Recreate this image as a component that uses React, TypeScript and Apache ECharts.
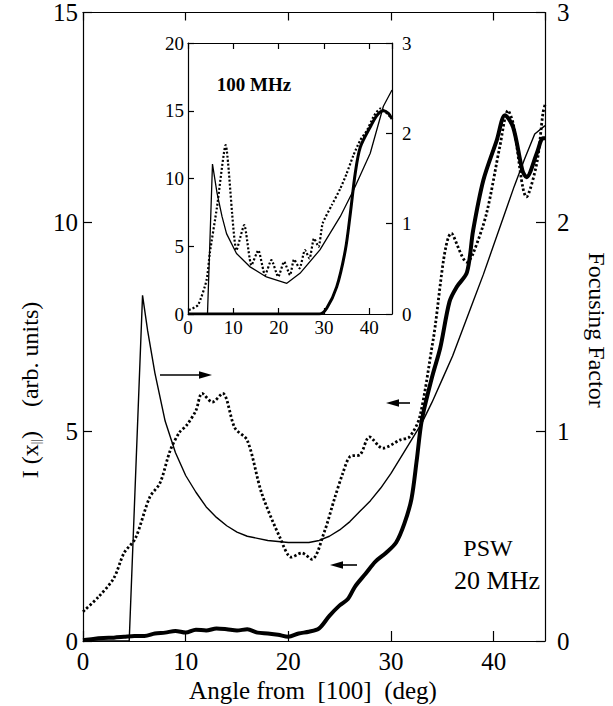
import React, { useEffect, useRef } from "react";
import * as echarts from "echarts";

// ---------- Main chart data (20 MHz) ----------
// Focusing factor (thin solid, right axis)
const mainFocusAngle = [0, 4.5, 5.8, 6.3, 7, 8, 9, 10, 11, 12, 13, 14, 15, 16, 17, 18, 19, 20, 21, 22, 23, 24, 25, 26, 27, 28, 29, 30, 31, 32, 33, 34, 35, 36, 37, 38, 39, 40, 41, 42, 43, 44, 45];
const mainFocus = [0, 0, 1.65, 1.48, 1.28, 1.05, 0.9, 0.79, 0.71, 0.64, 0.59, 0.55, 0.52, 0.5, 0.49, 0.48, 0.475, 0.47, 0.47, 0.47, 0.48, 0.5, 0.53, 0.57, 0.62, 0.67, 0.73, 0.8, 0.88, 0.96, 1.04, 1.14, 1.25, 1.36, 1.49, 1.62, 1.75, 1.89, 2.03, 2.17, 2.3, 2.42, 2.46];

// Dotted curve (left axis)
const mainDottedAngle = [0, 1.5, 3, 4, 5.1, 6.5, 7.5, 8.5, 9.4, 10.1, 11, 11.6, 12.6, 13.6, 14.8, 16, 17.4, 19.2, 20.3, 21.3, 22.3, 23.5, 24.5, 25.3, 26, 27, 27.9, 29.2, 30.9, 31.8, 32.8, 34.1, 35.9, 37.4, 38, 39.3, 40.6, 41.4, 41.9, 43.2, 44.2, 44.8, 45];
const mainDotted = [0.7, 1.05, 1.5, 2.1, 2.45, 3.43, 3.77, 4.55, 4.98, 5.15, 5.5, 5.91, 5.7, 5.91, 5.08, 4.79, 3.53, 2.46, 2.0, 2.1, 1.95, 2.6, 3.4, 4.0, 4.4, 4.45, 4.87, 4.6, 4.8, 4.87, 5.35, 7.18, 9.73, 9.04, 9.25, 10.2, 11.8, 12.66, 12.35, 10.6, 11.4, 12.6, 12.8];

// Thick solid curve (left axis)
const mainThickAngle = [0, 1, 2, 3, 4, 5, 6, 7, 8, 9, 10, 11, 12, 13, 14, 15, 16, 17, 18, 19, 20, 21, 22, 23, 24, 25, 25.8, 26.5, 27.5, 28.5, 29.5, 30.5, 31.3, 32, 32.5, 33, 34, 34.8, 35.7, 36.4, 37.4, 38, 39, 40.3, 41.1, 41.9, 42.8, 43.2, 44.2, 44.8, 45];
const mainThick = [0.02, 0.05, 0.07, 0.08, 0.1, 0.12, 0.12, 0.18, 0.2, 0.24, 0.2, 0.27, 0.25, 0.3, 0.28, 0.25, 0.28, 0.2, 0.18, 0.15, 0.1, 0.18, 0.22, 0.3, 0.6, 0.85, 1.0, 1.3, 1.6, 1.9, 2.1, 2.35, 2.8, 3.4, 4.3, 5.27, 6.3, 7.0, 8.1, 8.45, 8.8, 9.8, 11.0, 11.95, 12.55, 12.26, 11.23, 11.07, 11.64, 12.0, 12.0];

// ---------- Inset data (100 MHz) ----------
const insetFocusAngle = [0, 4.3, 5.4, 6.4, 7.5, 8.5, 10.7, 13.6, 17.3, 21.8, 24.7, 29.1, 33.6, 36.5, 40.2, 43.1, 45];
const insetFocus = [0, 0, 1.66, 1.34, 1.08, 0.89, 0.67, 0.525, 0.41, 0.34, 0.45, 0.71, 1.08, 1.37, 1.78, 2.3, 2.48];

const insetDottedAngle = [0.2, 2.2, 4.1, 4.8, 6.4, 8.3, 10.7, 12.4, 14.0, 15.5, 17.0, 18.4, 19.9, 21.2, 22.5, 23.4, 24.6, 25.8, 26.8, 27.8, 28.8, 29.7, 31.7, 33.6, 35.0, 36.5, 38.0, 39.5, 40.9, 42.4, 43.9, 45];
const insetDotted = [0.3, 0.66, 2.5, 4.47, 7.9, 12.46, 4.7, 6.56, 3.6, 4.7, 2.87, 3.98, 2.75, 3.86, 2.87, 4.03, 3.37, 4.72, 4.1, 5.58, 4.96, 6.68, 8.03, 9.26, 10.37, 11.72, 12.83, 13.56, 14.55, 15.16, 14.8, 14.4];

const insetThickAngle = [0, 29, 30.6, 32.8, 34.7, 35.8, 36.9, 38.0, 40.2, 41.7, 43.1, 44.2, 45];
const insetThick = [0, 0, 0.42, 2.0, 4.7, 7.4, 10.4, 12.3, 13.8, 14.67, 15.0, 14.8, 14.4];

// ---------- Axis ranges ----------
const angleRange = [0, 45];
const mainLeftRange = [0, 15];
const focusRange = [0, 3];
const insetLeftRange = [0, 20];

const SERIF = "'Liberation Serif', 'DejaVu Serif', serif";
const zip = (xs: number[], ys: number[]) => xs.map((x, i) => [x, ys[i]]);

function axisBase(opts: any) {
  const { gridIndex, position, min, max, interval, showLabel, fontSize, tickLen, margin } = opts;
  return {
    type: "value",
    gridIndex,
    position,
    min,
    max,
    interval,
    axisLine: { show: true, onZero: false, lineStyle: { color: "#000", width: 1.2 } },
    axisTick: { show: true, inside: true, length: tickLen, lineStyle: { color: "#000", width: 1.2 } },
    splitLine: { show: false },
    axisLabel: {
      show: showLabel,
      color: "#000",
      fontFamily: SERIF,
      fontSize,
      margin,
      showMaxLabel: opts.showMaxLabel !== false,
    },
  };
}

function arrow(x1: number, x2: number, y: number) {
  const dir = x2 > x1 ? 1 : -1;
  const headLen = 13;
  const base = x2 - dir * headLen;
  return [
    { type: "line", shape: { x1, y1: y, x2: base, y2: y }, style: { stroke: "#000", lineWidth: 1.6 } },
    { type: "polygon", shape: { points: [[x2, y], [base, y - 3.8], [base, y + 3.8]] }, style: { fill: "#000" } },
  ];
}

export default function App() {
  const ref = useRef<HTMLDivElement>(null);
  useEffect(() => {
    if (!ref.current) return;
    const chart = echarts.init(ref.current, undefined, { renderer: "svg" });
    const option: any = {
      animation: false,
      backgroundColor: "#fff",
      grid: [
        { left: 83, top: 12, width: 462, height: 629, show: false },
        { left: 188, top: 43, width: 204, height: 271, show: true, backgroundColor: "#fff", borderWidth: 0, z: 5 },
      ],
      xAxis: [
        axisBase({ gridIndex: 0, position: "bottom", min: angleRange[0], max: angleRange[1], interval: 10, showLabel: true, fontSize: 25, tickLen: 10, margin: 8, showMaxLabel: false }),
        axisBase({ gridIndex: 0, position: "top", min: angleRange[0], max: angleRange[1], interval: 10, showLabel: false, fontSize: 25, tickLen: 8, margin: 8 }),
        { ...axisBase({ gridIndex: 1, position: "bottom", min: angleRange[0], max: angleRange[1], interval: 10, showLabel: true, fontSize: 19, tickLen: 6, margin: 4, showMaxLabel: false }), z: 6 },
        { ...axisBase({ gridIndex: 1, position: "top", min: angleRange[0], max: angleRange[1], interval: 10, showLabel: false, fontSize: 19, tickLen: 6, margin: 4 }), z: 6 },
      ],
      yAxis: [
        axisBase({ gridIndex: 0, position: "left", min: mainLeftRange[0], max: mainLeftRange[1], interval: 5, showLabel: true, fontSize: 25, tickLen: 9, margin: 5 }),
        axisBase({ gridIndex: 0, position: "right", min: focusRange[0], max: focusRange[1], interval: 1, showLabel: true, fontSize: 25, tickLen: 9, margin: 12 }),
        { ...axisBase({ gridIndex: 1, position: "left", min: insetLeftRange[0], max: insetLeftRange[1], interval: 5, showLabel: true, fontSize: 19, tickLen: 6, margin: 4 }), z: 6 },
        { ...axisBase({ gridIndex: 1, position: "right", min: focusRange[0], max: focusRange[1], interval: 1, showLabel: true, fontSize: 19, tickLen: 6, margin: 10 }), z: 6 },
      ],
      series: [
        {
          type: "line", xAxisIndex: 0, yAxisIndex: 1, data: zip(mainFocusAngle, mainFocus),
          showSymbol: false, smooth: false, lineStyle: { color: "#000", width: 1.4 },
        },
        {
          type: "line", xAxisIndex: 0, yAxisIndex: 0, data: zip(mainDottedAngle, mainDotted),
          showSymbol: false, smooth: 0.3, lineStyle: { color: "#000", width: 2.8, type: [2.4, 2.2] },
        },
        {
          type: "line", xAxisIndex: 0, yAxisIndex: 0, data: zip(mainThickAngle, mainThick),
          showSymbol: false, smooth: 0.3, lineStyle: { color: "#000", width: 4 },
        },
        {
          type: "line", xAxisIndex: 2, yAxisIndex: 3, data: zip(insetFocusAngle, insetFocus), z: 7,
          showSymbol: false, smooth: false, lineStyle: { color: "#000", width: 1.3 },
        },
        {
          type: "line", xAxisIndex: 2, yAxisIndex: 2, data: zip(insetDottedAngle, insetDotted), z: 7,
          showSymbol: false, smooth: 0.2, lineStyle: { color: "#000", width: 2.2, type: [2, 2] },
        },
        {
          type: "line", xAxisIndex: 2, yAxisIndex: 2, data: zip(insetThickAngle, insetThick), z: 7,
          showSymbol: false, smooth: 0.3, lineStyle: { color: "#000", width: 3 },
        },
      ],
      graphic: [
        {
          type: "text", x: 30, y: 390, rotation: Math.PI / 2,
          style: {
            text: "I (x{s|||})    (arb. units)",
            font: `24px ${SERIF}`,
            fill: "#000",
            align: "center",
            verticalAlign: "middle",
            rich: { s: { fontSize: 13, fontFamily: SERIF, fill: "#000", padding: [10, 0, 0, 0] } },
          },
        },
        {
          type: "text", x: 597, y: 330, rotation: -Math.PI / 2,
          style: { text: "Focusing Factor", font: `24px ${SERIF}`, fill: "#000", align: "center", verticalAlign: "middle" },
        },
        {
          type: "text", x: 313, y: 690,
          style: { text: "Angle from  [100]  (deg)", font: `25px ${SERIF}`, fill: "#000", align: "center", verticalAlign: "middle" },
        },
        {
          type: "text", x: 488, y: 548,
          style: { text: "PSW", font: `24px ${SERIF}`, fill: "#000", align: "center", verticalAlign: "middle" },
        },
        {
          type: "text", x: 497, y: 580,
          style: { text: "20 MHz", font: `26px ${SERIF}`, fill: "#000", align: "center", verticalAlign: "middle" },
        },
        {
          type: "text", x: 254, y: 84, z: 10,
          style: { text: "100 MHz", font: `bold 19px ${SERIF}`, fill: "#000", align: "center", verticalAlign: "middle" },
        },
        ...arrow(160, 212, 375),
        ...arrow(410, 386, 403),
        ...arrow(357, 330, 565),
      ],
    };
    chart.setOption(option);
    return () => chart.dispose();
  }, []);
  return <div ref={ref} style={{ position: "fixed", left: 0, top: 0, width: 613, height: 706 }} />;
}
